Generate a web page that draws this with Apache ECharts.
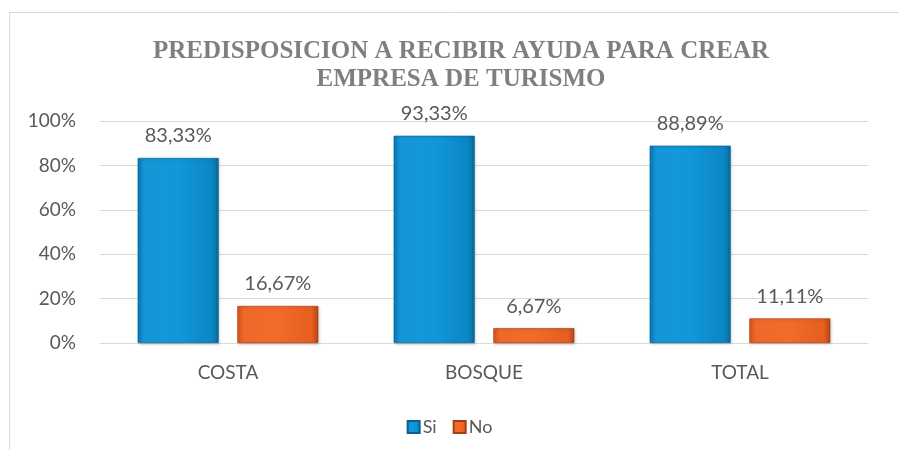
<!DOCTYPE html>
<html><head><meta charset="utf-8">
<script src="https://cdn.jsdelivr.net/npm/echarts@6/dist/echarts.min.js"></script>
<style>html,body{margin:0;padding:0;background:#fff}#c{width:899px;height:450px}</style>
</head><body><div id="c"></div>
<script>
const titleText = 'PREDISPOSICION A RECIBIR AYUDA PARA CREAR\nEMPRESA DE TURISMO';
const categories = ['COSTA', 'BOSQUE', 'TOTAL'];
const seriesNames = ['Si', 'No'];
const siValues = [83.33, 93.33, 88.89];
const noValues = [16.67, 6.67, 11.11];
const yTicks = [0, 20, 40, 60, 80, 100];

const blueGrad = new echarts.graphic.LinearGradient(0, 0, 1, 0, [
  {offset: 0, color: '#0a78b8'}, {offset: 0.08, color: '#1596d6'},
  {offset: 0.5, color: '#1198da'}, {offset: 0.92, color: '#0b86c4'}, {offset: 1, color: '#08679c'}]);
const orangeGrad = new echarts.graphic.LinearGradient(0, 0, 1, 0, [
  {offset: 0, color: '#d8541a'}, {offset: 0.08, color: '#f0682a'},
  {offset: 0.5, color: '#f26b2a'}, {offset: 0.92, color: '#e65e20'}, {offset: 1, color: '#b94413'}]);

const fmt = p => p.value.toFixed(2).replace('.', ',') + '%';
const labelStyle = {show: true, position: 'top', distance: 12, formatter: fmt,
  color: '#595959', fontSize: 20, fontFamily: 'Lato'};

const chart = echarts.init(document.getElementById('c'));
chart.setOption({
  animation: false,
  title: {text: titleText, left: 456, textAlign: 'center', top: 33,
    textStyle: {fontFamily: 'Liberation Serif', fontWeight: 'bold', fontSize: 25, color: '#7f7f7f', lineHeight: 28}},
  graphic: [{type: 'rect', shape: {x: 9.5, y: 12.5, width: 1000, height: 1000},
    style: {fill: 'none', stroke: '#d9d9d9', lineWidth: 1}}],
  legend: {data: seriesNames, left: 'center', top: 413, itemWidth: 12, itemHeight: 12, itemGap: 16,
    icon: 'rect',
    textStyle: {color: '#595959', fontSize: 18, fontFamily: 'Lato', padding: [0, 0, 0, -2]}},
  grid: {left: 100, right: 31, top: 121, bottom: 107},
  xAxis: {type: 'category', data: categories,
    axisLine: {lineStyle: {color: '#d9d9d9'}}, axisTick: {show: false},
    axisLabel: {color: '#595959', fontSize: 19, fontFamily: 'Lato', margin: 20}},
  yAxis: {type: 'value', min: yTicks[0], max: yTicks[yTicks.length - 1], interval: 20,
    axisLine: {show: false}, axisTick: {show: false},
    splitLine: {lineStyle: {color: '#d9d9d9'}},
    axisLabel: {formatter: v => v + '%', color: '#595959', fontSize: 19, fontFamily: 'Lato', margin: 24}},
  series: [
    {name: seriesNames[0], type: 'bar', data: siValues, barWidth: 81, barGap: '23%',
      itemStyle: {color: blueGrad, borderColor: '#0a5f90', borderWidth: 0.6,
        shadowColor: 'rgba(0,0,0,0.25)', shadowBlur: 3, shadowOffsetX: 1, shadowOffsetY: 1},
      label: labelStyle},
    {name: seriesNames[1], type: 'bar', data: noValues, barWidth: 81,
      itemStyle: {color: orangeGrad, borderColor: '#a63c10', borderWidth: 0.6,
        shadowColor: 'rgba(0,0,0,0.25)', shadowBlur: 3, shadowOffsetX: 1, shadowOffsetY: 1},
      label: labelStyle}
  ]
});
</script></body></html>
